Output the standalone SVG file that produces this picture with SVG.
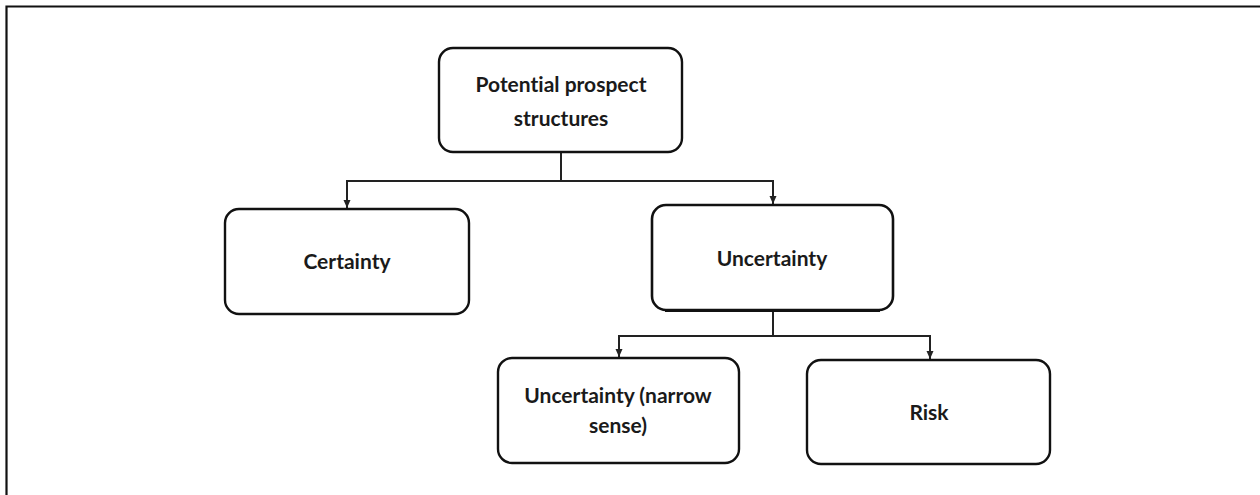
<svg xmlns="http://www.w3.org/2000/svg" width="1260" height="495" viewBox="0 0 1260 495">
<style>
.box{fill:#fff;stroke:#111;stroke-width:2.4}
.lbl{font-family:Lato,"Open Sans","Liberation Sans",sans-serif;font-weight:bold;font-size:21px;fill:#1a1a1a;text-anchor:middle;font-variant-ligatures:none}
.con{fill:none;stroke:#222;stroke-width:2}
</style>
<defs>
<marker id="ah" markerWidth="9" markerHeight="9" refX="8" refY="4.5" orient="auto" markerUnits="userSpaceOnUse">
<path d="M0,1 L8,4.5 L0,8 Z" fill="#222"/>
</marker>
</defs>
<rect width="1260" height="495" fill="#fff"/>
<g id="frame">
<path d="M6.5,500 V6.5 H1265" fill="none" stroke="#111" stroke-width="2.2"/>
</g>
<g id="connectors">
<path class="con" d="M561,152 V181 H347 V208" marker-end="url(#ah)"/>
<path class="con" d="M561,181 H773 V204" marker-end="url(#ah)"/>
<path class="con" d="M773,310 V336 H619 V357" marker-end="url(#ah)"/>
<path class="con" d="M773,336 H930 V359" marker-end="url(#ah)"/>
</g>
<g id="node-potential">
<rect class="box" x="439" y="48" width="243" height="104" rx="14"/>
<text class="lbl" x="561" y="92">Potential prospect</text>
<text class="lbl" x="561" y="126">structures</text>
</g>
<g id="node-certainty">
<rect class="box" x="225" y="209" width="244" height="105" rx="14"/>
<text class="lbl" x="347" y="269">Certainty</text>
</g>
<g id="node-uncertainty">
<rect class="box" x="652" y="205" width="241" height="105" rx="14" style="stroke-width:2.6"/>
<path d="M665,310.5 H880" stroke="#111" stroke-width="3"/>
<text class="lbl" x="772" y="266">Uncertainty</text>
</g>
<g id="node-narrow">
<rect class="box" x="498" y="358" width="241" height="105" rx="14"/>
<text class="lbl" x="618" y="403">Uncertainty (narrow</text>
<text class="lbl" x="618" y="433">sense)</text>
</g>
<g id="node-risk">
<rect class="box" x="807" y="360" width="243" height="104" rx="14"/>
<text class="lbl" x="929" y="420">Risk</text>
</g>
</svg>
